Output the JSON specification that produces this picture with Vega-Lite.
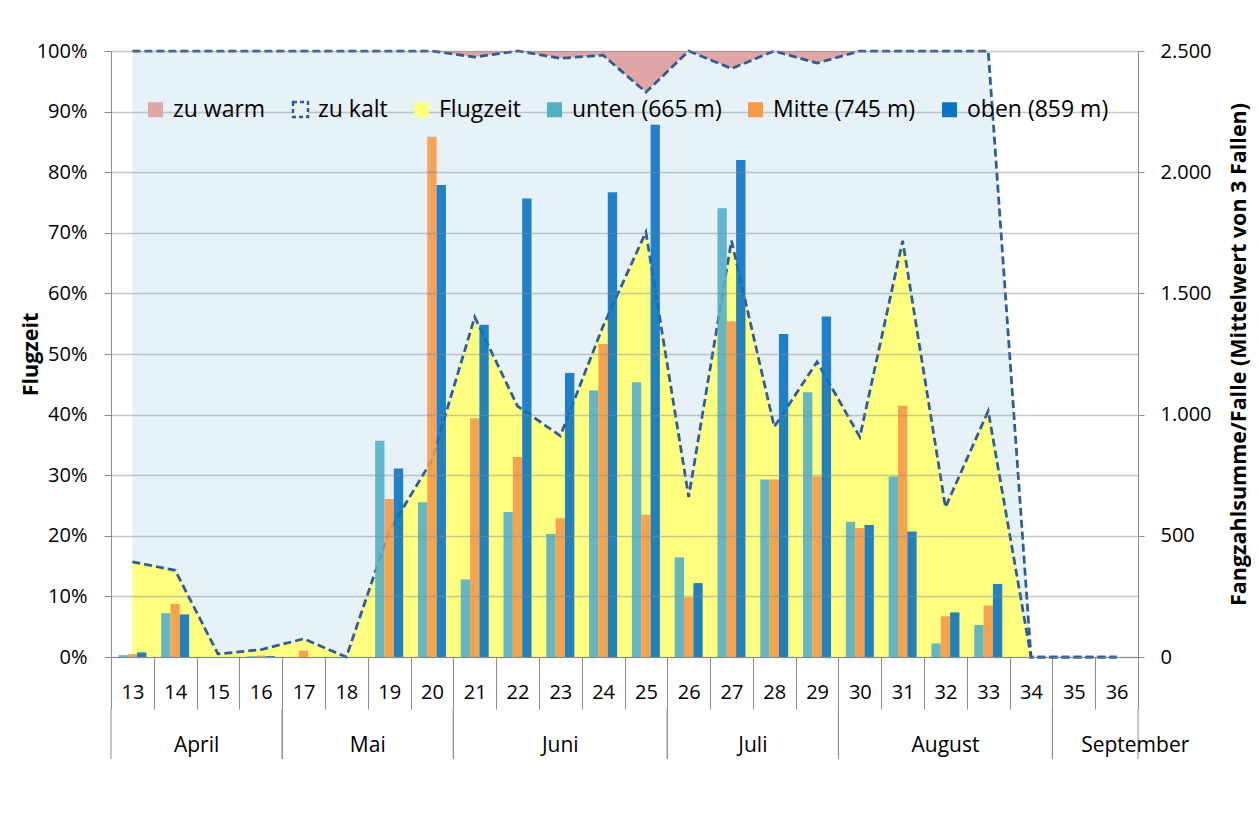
{
  "$schema": "https://vega.github.io/schema/vega-lite/v6.json",
  "background": "#ffffff",
  "padding": {"left": 20, "top": 41, "right": 0, "bottom": 0},
  "spacing": 52,
  "bounds": "flush",
  "config": {
    "font": "Open Sans",
    "view": {"stroke": null},
    "axis": {"labelFont": "Open Sans", "titleFont": "Open Sans"},
    "legend": {"labelFont": "Open Sans"}
  },
  "datasets": {
    "flug": [
      {"woche": 13, "monat": "April", "Flugzeit": 15.7, "zu kalt": 84.3, "zu warm": 0},
      {"woche": 14, "monat": "April", "Flugzeit": 14.3, "zu kalt": 85.7, "zu warm": 0},
      {"woche": 15, "monat": "April", "Flugzeit": 0.5, "zu kalt": 99.5, "zu warm": 0},
      {"woche": 16, "monat": "April", "Flugzeit": 1.2, "zu kalt": 98.8, "zu warm": 0},
      {"woche": 17, "monat": "Mai", "Flugzeit": 3.0, "zu kalt": 97.0, "zu warm": 0},
      {"woche": 18, "monat": "Mai", "Flugzeit": 0, "zu kalt": 100, "zu warm": 0},
      {"woche": 19, "monat": "Mai", "Flugzeit": 20.8, "zu kalt": 79.2, "zu warm": 0},
      {"woche": 20, "monat": "Mai", "Flugzeit": 32.5, "zu kalt": 67.5, "zu warm": 0},
      {"woche": 21, "monat": "Juni", "Flugzeit": 56.1, "zu kalt": 42.9, "zu warm": 1.0},
      {"woche": 22, "monat": "Juni", "Flugzeit": 41.4, "zu kalt": 58.6, "zu warm": 0},
      {"woche": 23, "monat": "Juni", "Flugzeit": 36.5, "zu kalt": 62.3, "zu warm": 1.2},
      {"woche": 24, "monat": "Juni", "Flugzeit": 54.6, "zu kalt": 44.7, "zu warm": 0.7},
      {"woche": 25, "monat": "Juni", "Flugzeit": 70.1, "zu kalt": 23.1, "zu warm": 6.8},
      {"woche": 26, "monat": "Juli", "Flugzeit": 26.4, "zu kalt": 73.6, "zu warm": 0},
      {"woche": 27, "monat": "Juli", "Flugzeit": 68.7, "zu kalt": 28.4, "zu warm": 2.9},
      {"woche": 28, "monat": "Juli", "Flugzeit": 38.0, "zu kalt": 62.0, "zu warm": 0},
      {"woche": 29, "monat": "Juli", "Flugzeit": 48.7, "zu kalt": 49.3, "zu warm": 2.0},
      {"woche": 30, "monat": "August", "Flugzeit": 36.3, "zu kalt": 63.7, "zu warm": 0},
      {"woche": 31, "monat": "August", "Flugzeit": 68.7, "zu kalt": 31.3, "zu warm": 0},
      {"woche": 32, "monat": "August", "Flugzeit": 24.7, "zu kalt": 75.3, "zu warm": 0},
      {"woche": 33, "monat": "August", "Flugzeit": 40.6, "zu kalt": 59.4, "zu warm": 0},
      {"woche": 34, "monat": "August", "Flugzeit": 0, "zu kalt": 0, "zu warm": 0},
      {"woche": 35, "monat": "September", "Flugzeit": 0, "zu kalt": 0, "zu warm": 0},
      {"woche": 36, "monat": "September", "Flugzeit": 0, "zu kalt": 0, "zu warm": 0}
    ],
    "fang": [
      {"woche": 13, "unten (665 m)": 8, "Mitte (745 m)": 12, "oben (859 m)": 19},
      {"woche": 14, "unten (665 m)": 181, "Mitte (745 m)": 219, "oben (859 m)": 176},
      {"woche": 15, "unten (665 m)": 0, "Mitte (745 m)": 0, "oben (859 m)": 0},
      {"woche": 16, "unten (665 m)": 3, "Mitte (745 m)": 6, "oben (859 m)": 4},
      {"woche": 17, "unten (665 m)": 0, "Mitte (745 m)": 26, "oben (859 m)": 0},
      {"woche": 18, "unten (665 m)": 0, "Mitte (745 m)": 0, "oben (859 m)": 0},
      {"woche": 19, "unten (665 m)": 892, "Mitte (745 m)": 652, "oben (859 m)": 778},
      {"woche": 20, "unten (665 m)": 638, "Mitte (745 m)": 2146, "oben (859 m)": 1947},
      {"woche": 21, "unten (665 m)": 320, "Mitte (745 m)": 985, "oben (859 m)": 1371},
      {"woche": 22, "unten (665 m)": 598, "Mitte (745 m)": 825, "oben (859 m)": 1892},
      {"woche": 23, "unten (665 m)": 507, "Mitte (745 m)": 572, "oben (859 m)": 1172},
      {"woche": 24, "unten (665 m)": 1099, "Mitte (745 m)": 1291, "oben (859 m)": 1917},
      {"woche": 25, "unten (665 m)": 1133, "Mitte (745 m)": 587, "oben (859 m)": 2196},
      {"woche": 26, "unten (665 m)": 411, "Mitte (745 m)": 246, "oben (859 m)": 305},
      {"woche": 27, "unten (665 m)": 1851, "Mitte (745 m)": 1385, "oben (859 m)": 2050},
      {"woche": 28, "unten (665 m)": 732, "Mitte (745 m)": 732, "oben (859 m)": 1333},
      {"woche": 29, "unten (665 m)": 1092, "Mitte (745 m)": 745, "oben (859 m)": 1405},
      {"woche": 30, "unten (665 m)": 558, "Mitte (745 m)": 532, "oben (859 m)": 545},
      {"woche": 31, "unten (665 m)": 745, "Mitte (745 m)": 1037, "oben (859 m)": 518},
      {"woche": 32, "unten (665 m)": 56, "Mitte (745 m)": 168, "oben (859 m)": 184},
      {"woche": 33, "unten (665 m)": 132, "Mitte (745 m)": 212, "oben (859 m)": 301},
      {"woche": 34, "unten (665 m)": 0, "Mitte (745 m)": 0, "oben (859 m)": 0},
      {"woche": 35, "unten (665 m)": 0, "Mitte (745 m)": 0, "oben (859 m)": 0},
      {"woche": 36, "unten (665 m)": 0, "Mitte (745 m)": 0, "oben (859 m)": 0}
    ]
  },
  "vconcat": [
    {
      "width": 1027,
      "height": 606,
      "layer": [
        {
          "data": {"name": "flug"},
          "transform": [
            {"fold": ["Flugzeit", "zu kalt", "zu warm"], "as": ["serie", "wert"]},
            {"stack": "wert", "groupby": ["woche"], "sort": [{"field": "serie", "order": "ascending"}], "as": ["y0", "y1"]}
          ],
          "layer": [
            {
              "mark": {"type": "area", "interpolate": "linear"},
              "encoding": {
                "x": {"field": "woche", "type": "ordinal", "title": null, "scale": {"paddingInner": 0, "paddingOuter": 0},
                  "axis": {"tickBand": "extent", "tickSize": 52, "labelPadding": -17, "labelBaseline": "middle", "labelAngle": 0, "labelFontSize": 20, "labelColor": "#000000", "domainColor": "#8c8c8c", "tickColor": "#8c8c8c", "grid": false}},
                "y": {"field": "y1", "type": "quantitative", "scale": {"domain": [0, 100], "nice": false},
                  "axis": {"orient": "left", "values": [0, 10, 20, 30, 40, 50, 60, 70, 80, 90, 100], "labelExpr": "datum.value + '%'", "title": "Flugzeit", "titleFontSize": 21.5, "titleFontWeight": "bold", "titleColor": "#000000", "titlePadding": -6, "labelFontSize": 20, "labelColor": "#000000", "labelPadding": 17, "tickSize": 7, "tickColor": "#8c8c8c", "domainColor": "#8c8c8c", "grid": true, "gridColor": "#7f8b91", "gridOpacity": 0.45, "gridWidth": 1.5, "zindex": 1}},
                "y2": {"field": "y0"},
                "color": {"field": "serie", "type": "nominal",
                  "scale": {"domain": ["zu warm", "zu kalt", "Flugzeit", "unten (665 m)", "Mitte (745 m)", "oben (859 m)"], "range": ["#e0a6a6", "#e7f2f8", "#ffff80", "#53afc8", "#f69948", "#0a73c3"]},
                  "legend": {"title": null, "orient": "none", "legendX": 33, "legendY": 47, "direction": "horizontal", "columns": 6, "columnPadding": 22, "symbolType": "square", "symbolSize": 225, "symbolOpacity": 1, "labelFontSize": 23, "labelColor": "#000000", "labelOffset": 6, "labelLimit": 400,
                    "encoding": {"symbols": {"stroke": {"value": {"expr": "datum.value === 'zu kalt' ? '#2f5b98' : 'transparent'"}}, "strokeDash": {"value": {"expr": "datum.value === 'zu kalt' ? [4, 3] : [1, 0]"}}, "strokeWidth": {"value": {"expr": "datum.value === 'zu kalt' ? 2.5 : 0"}}}}}}
              }
            },
            {
              "transform": [{"filter": "datum.serie !== 'zu warm'"}],
              "mark": {"type": "line", "stroke": "#2f5b98", "strokeDash": [8, 4], "strokeWidth": 2.75},
              "encoding": {
                "x": {"field": "woche", "type": "ordinal", "title": null, "scale": {"paddingInner": 0, "paddingOuter": 0},
                  "axis": {"tickBand": "extent", "tickSize": 52, "labelPadding": -17, "labelBaseline": "middle", "labelAngle": 0, "labelFontSize": 20, "labelColor": "#000000", "domainColor": "#8c8c8c", "tickColor": "#8c8c8c", "grid": false}},
                "y": {"field": "y1", "type": "quantitative", "scale": {"domain": [0, 100], "nice": false},
                  "axis": {"orient": "left", "values": [0, 10, 20, 30, 40, 50, 60, 70, 80, 90, 100], "labelExpr": "datum.value + '%'", "title": "Flugzeit", "titleFontSize": 21.5, "titleFontWeight": "bold", "titleColor": "#000000", "titlePadding": -6, "labelFontSize": 20, "labelColor": "#000000", "labelPadding": 17, "tickSize": 7, "tickColor": "#8c8c8c", "domainColor": "#8c8c8c", "grid": true, "gridColor": "#7f8b91", "gridOpacity": 0.45, "gridWidth": 1.5, "zindex": 1}},
                "detail": {"field": "serie", "type": "nominal"}
              }
            }
          ]
        },
        {
          "data": {"name": "fang"},
          "transform": [{"fold": ["unten (665 m)", "Mitte (745 m)", "oben (859 m)"], "as": ["falle", "n"]}],
          "mark": {"type": "bar", "opacity": 0.9},
          "encoding": {
            "x": {"field": "woche", "type": "ordinal", "title": null, "scale": {"paddingInner": 0, "paddingOuter": 0},
              "axis": {"tickBand": "extent", "tickSize": 52, "labelPadding": -17, "labelBaseline": "middle", "labelAngle": 0, "labelFontSize": 20, "labelColor": "#000000", "domainColor": "#8c8c8c", "tickColor": "#8c8c8c", "grid": false}},
            "xOffset": {"field": "falle", "type": "nominal", "sort": ["unten (665 m)", "Mitte (745 m)", "oben (859 m)"], "scale": {"paddingInner": 0, "paddingOuter": 0.792}},
            "y": {"field": "n", "type": "quantitative", "scale": {"domain": [0, 2500], "nice": false},
              "axis": {"orient": "right", "values": [0, 500, 1000, 1500, 2000, 2500], "labelExpr": "replace(format(datum.value, ','), ',', '.')", "title": "Fangzahlsumme/Falle (Mittelwert  von  3 Fallen)", "titleAngle": 270, "titleBaseline": "top", "titleFontSize": 21.5, "titleFontWeight": "bold", "titleColor": "#000000", "titlePadding": 18, "labelFontSize": 20, "labelColor": "#000000", "labelPadding": 16, "tickSize": 6, "tickColor": "#8c8c8c", "domainColor": "#8c8c8c", "grid": false}},
            "color": {"field": "falle", "type": "nominal",
              "scale": {"domain": ["zu warm", "zu kalt", "Flugzeit", "unten (665 m)", "Mitte (745 m)", "oben (859 m)"], "range": ["#e0a6a6", "#e7f2f8", "#ffff80", "#53afc8", "#f69948", "#0a73c3"]},
              "legend": {"title": null, "orient": "none", "legendX": 33, "legendY": 47, "direction": "horizontal", "columns": 6, "columnPadding": 22, "symbolType": "square", "symbolSize": 225, "symbolOpacity": 1, "labelFontSize": 23, "labelColor": "#000000", "labelOffset": 6, "labelLimit": 400,
                "encoding": {"symbols": {"stroke": {"value": {"expr": "datum.value === 'zu kalt' ? '#2f5b98' : 'transparent'"}}, "strokeDash": {"value": {"expr": "datum.value === 'zu kalt' ? [4, 3] : [1, 0]"}}, "strokeWidth": {"value": {"expr": "datum.value === 'zu kalt' ? 2.5 : 0"}}}}}}
          }
        }
      ],
      "resolve": {"scale": {"y": "independent"}}
    },
    {
      "width": 1027,
      "height": 50,
      "data": {"name": "flug"},
      "layer": [
        {
          "mark": {"type": "rule", "color": "#8c8c8c", "xOffset": -21.4},
          "encoding": {
            "x": {"aggregate": "min", "field": "woche", "type": "quantitative", "scale": {"domain": [12.5, 36.5], "nice": false, "zero": false}, "axis": null},
            "detail": {"field": "monat", "type": "nominal"}
          }
        },
        {
          "mark": {"type": "rule", "color": "#8c8c8c", "xOffset": 21.4},
          "encoding": {
            "x": {"aggregate": "max", "field": "woche", "type": "quantitative", "scale": {"domain": [12.5, 36.5], "nice": false, "zero": false}, "axis": null},
            "detail": {"field": "monat", "type": "nominal"}
          }
        },
        {
          "transform": [{"filter": "datum.monat !== 'September'"}],
          "mark": {"type": "text", "fontSize": 21, "dy": 12, "color": "#000000"},
          "encoding": {
            "x": {"aggregate": "mean", "field": "woche", "type": "quantitative", "scale": {"domain": [12.5, 36.5], "nice": false, "zero": false}, "axis": null},
            "text": {"field": "monat", "type": "nominal"}
          }
        },
        {
          "transform": [{"filter": "datum.monat === 'September'"}],
          "mark": {"type": "text", "fontSize": 21, "dy": 12, "dx": 40, "color": "#000000"},
          "encoding": {
            "x": {"aggregate": "mean", "field": "woche", "type": "quantitative", "scale": {"domain": [12.5, 36.5], "nice": false, "zero": false}, "axis": null},
            "text": {"field": "monat", "type": "nominal"}
          }
        }
      ]
    }
  ]
}
